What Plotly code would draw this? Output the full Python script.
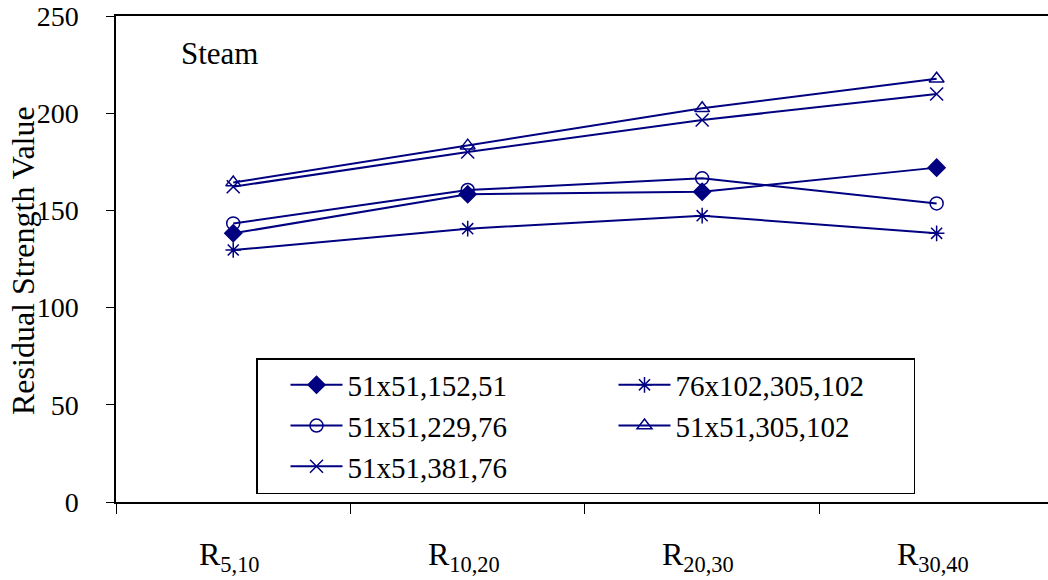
import plotly.graph_objects as go

# Sampling ranges along the x axis
categories = ["R<sub>5,10</sub>", "R<sub>10,20</sub>", "R<sub>20,30</sub>", "R<sub>30,40</sub>"]
positions = [0, 1, 2, 3]

# Residual strength per specimen geometry
s_51x51_152_51 = [138.2, 158.3, 159.6, 172.0]
s_76x102_305_102 = [129.6, 140.6, 147.3, 138.2]
s_51x51_229_76 = [143.3, 160.5, 166.5, 153.6]
s_51x51_305_102 = [164.3, 183.3, 202.5, 217.7]
s_51x51_381_76 = [162.2, 180.0, 196.5, 209.9]

series = [
    ("51x51,152,51", s_51x51_152_51, "diamond"),
    ("76x102,305,102", s_76x102_305_102, "asterisk-open"),
    ("51x51,229,76", s_51x51_229_76, "circle-open"),
    ("51x51,305,102", s_51x51_305_102, "triangle-up-open"),
    ("51x51,381,76", s_51x51_381_76, "x-thin-open"),
]

NAVY = "#000080"
FONT = "Liberation Serif"

# plot area in pixels: left 116, top 16, bottom 502, right edge of page
PLOT_W, PLOT_H = 932, 486

fig = go.Figure()
for name, vals, sym in series:
    fig.add_trace(go.Scatter(
        x=positions, y=vals, name=name, mode="lines+markers",
        line=dict(color=NAVY, width=2),
        marker=dict(symbol=sym, size=13, color=NAVY,
                    line=dict(color=NAVY, width=1.5)),
    ))

fig.update_layout(
    width=1048, height=580,
    margin=dict(l=116, r=0, t=16, b=78),
    plot_bgcolor="white", paper_bgcolor="white",
    font=dict(family=FONT, color="black", size=28),
    showlegend=True,
    legend=dict(
        orientation="h", x=(256 - 116) / PLOT_W, y=(502 - 358) / PLOT_H,
        xanchor="left", yanchor="top",
        bordercolor="black", borderwidth=1.5, bgcolor="white",
        font=dict(family=FONT, size=29, color="black"),
        entrywidth=233, entrywidthmode="pixels",
        tracegroupgap=0, itemwidth=52, indentation=28,
    ),
)

fig.update_xaxes(
    range=[-0.5, 3.475], showgrid=False, zeroline=False,
    showline=True, linecolor="black", linewidth=2, mirror=True,
    tickmode="array", tickvals=[-0.5, 0.5, 1.5, 2.5],
    showticklabels=False, ticks="outside", ticklen=10,
    tickcolor="black", tickwidth=1,
)
fig.update_yaxes(
    range=[0, 250], showgrid=False, zeroline=False,
    showline=True, linecolor="black", linewidth=1.5,
    tickmode="array", tickvals=[0, 50, 100, 150, 200, 250],
    ticks="outside", ticklen=8, tickcolor="black", tickwidth=1,
    tickfont=dict(family=FONT, size=28), ticklabelstandoff=22,
)

# y-axis title, rotated
fig.add_annotation(
    x=(23 - 116) / PLOT_W, y=(502 - 261) / PLOT_H, xref="paper", yref="paper",
    text="Residual Strength Value", textangle=-90, showarrow=False,
    xanchor="center", yanchor="middle", font=dict(family=FONT, size=32),
)

# category labels with subscripts
for pos, label in zip(positions, categories):
    fig.add_annotation(
        x=pos, y=-0.112, xref="x", yref="paper", text=label,
        showarrow=False, font=dict(family=FONT, size=32),
        xanchor="center", yanchor="middle", xshift=-4,
    )

fig.add_annotation(
    x=(179 - 116) / PLOT_W, y=(502 - 54) / PLOT_H, xref="paper", yref="paper",
    text="Steam", showarrow=False, xanchor="left", yanchor="middle",
    font=dict(family=FONT, size=31),
)

fig.write_html("out.html")
